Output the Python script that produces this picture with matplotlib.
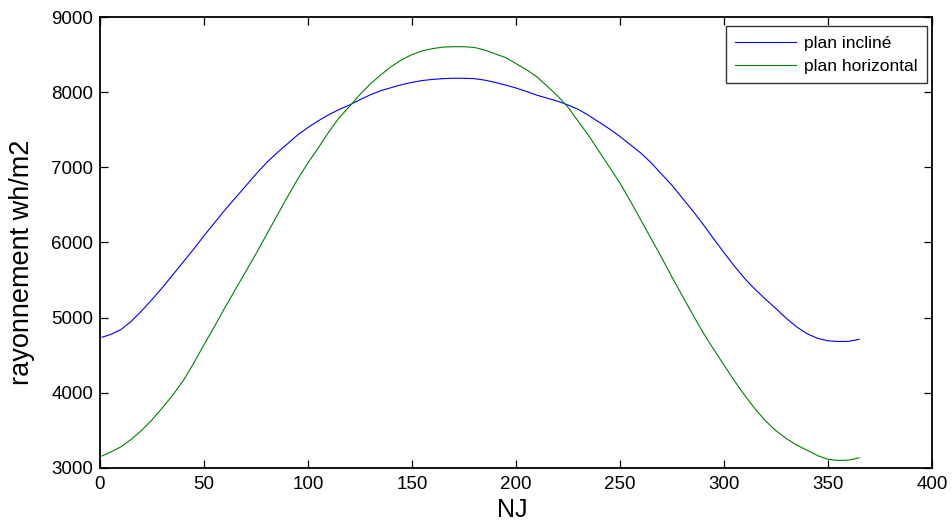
import matplotlib
matplotlib.use('Agg')
import matplotlib.pyplot as plt

# Day of year (NJ) sample points
nj = [1, 5, 10, 15, 20, 25, 30, 35, 40, 45, 50, 55, 60, 65, 70, 75, 80, 85,
      90, 95, 100, 105, 110, 115, 120, 125, 130, 135, 140, 145, 150, 155,
      160, 165, 170, 175, 180, 185, 190, 195, 200, 205, 210, 215, 220, 225,
      230, 235, 240, 245, 250, 255, 260, 265, 270, 275, 280, 285, 290, 295,
      300, 305, 310, 315, 320, 325, 330, 335, 340, 345, 350, 355, 360, 365]

# Radiation on the tilted plane (wh/m2)
plan_incline = [4740, 4775, 4840, 4950, 5090, 5240, 5400, 5570, 5740, 5910,
                6090, 6260, 6430, 6590, 6750, 6910, 7060, 7190, 7310, 7430,
                7530, 7620, 7700, 7770, 7830, 7900, 7965, 8020, 8060, 8100,
                8130, 8155, 8170, 8180, 8185, 8185, 8180, 8160, 8130, 8095,
                8055, 8010, 7960, 7920, 7880, 7830, 7770, 7690, 7600, 7510,
                7410, 7300, 7190, 7060, 6910, 6760, 6590, 6420, 6240, 6050,
                5865, 5685, 5520, 5375, 5245, 5120, 4990, 4875, 4785, 4725,
                4692, 4683, 4685, 4712]

# Radiation on the horizontal plane (wh/m2)
plan_horizontal = [3160, 3210, 3280, 3380, 3500, 3640, 3800, 3970, 4160, 4390,
                   4640, 4880, 5130, 5370, 5610, 5850, 6100, 6350, 6600, 6840,
                   7060, 7260, 7470, 7660, 7810, 7970, 8110, 8230, 8340, 8430,
                   8500, 8550, 8580, 8600, 8605, 8605, 8595, 8560, 8510, 8460,
                   8380, 8300, 8206, 8080, 7950, 7800, 7610, 7420, 7210, 7000,
                   6790, 6550, 6300, 6050, 5800, 5540, 5290, 5040, 4800, 4580,
                   4370, 4160, 3965, 3785, 3625, 3495, 3390, 3305, 3235, 3165,
                   3115, 3100, 3105, 3135]

plt.rcParams['font.family'] = ['Liberation Sans', 'DejaVu Sans']

fig = plt.figure(figsize=(9.52, 5.25), dpi=100)
ax = fig.add_axes([0.105, 0.1086, 0.874, 0.859])

ax.plot(nj, plan_incline, color=(0, 0, 1), linewidth=0.8, label='plan incliné')
ax.plot(nj, plan_horizontal, color=(0, 0.5, 0), linewidth=0.8, label='plan horizontal')

ax.set_xlim(0, 400)
ax.set_ylim(3000, 9000)
ax.set_xticks(range(0, 401, 50))
ax.set_yticks(range(3000, 9001, 1000))

ax.tick_params(direction='in', top=True, right=True, length=5.5, width=0.9,
               labelsize=13.5)
ax.tick_params(axis='x', pad=6)
ax.tick_params(axis='y', pad=5)
for sp in ax.spines.values():
    sp.set_linewidth(1.3)

ax.set_xlabel('NJ', fontsize=18)
ax.xaxis.set_label_coords(0.495, -0.0665)
ax.set_ylabel('rayonnement wh/m2', fontsize=19.5)
ax.yaxis.set_label_coords(-0.078, 0.457)

leg = ax.legend(loc='upper right', bbox_to_anchor=(0.994, 0.980),
                borderaxespad=0, fontsize=12.5, frameon=True, fancybox=False,
                handlelength=3.5, borderpad=0.55, labelspacing=0.45,
                handletextpad=0.45)
leg.get_frame().set_edgecolor('black')
leg.get_frame().set_linewidth(1.0)
for ln in leg.get_lines():
    ln.set_linewidth(0.8)

fig.savefig('out.png', dpi=100)
